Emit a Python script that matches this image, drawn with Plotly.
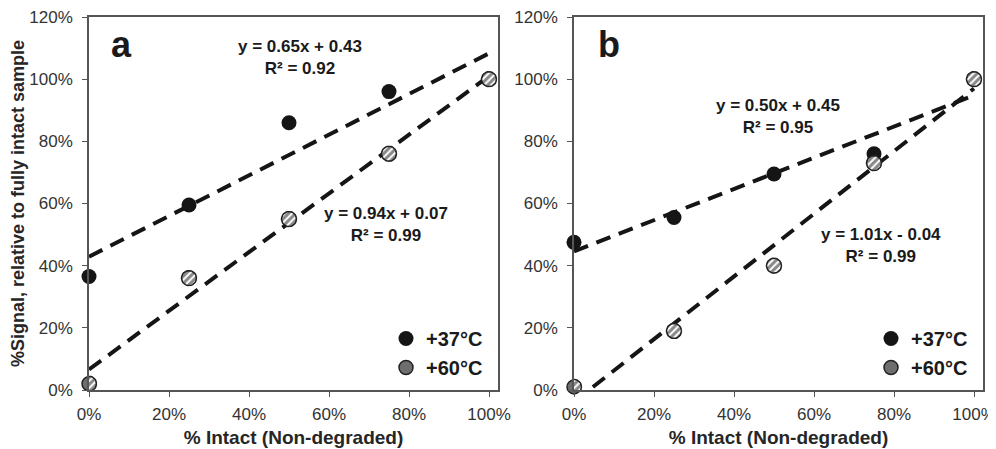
import numpy as np
import plotly.graph_objects as go

# ---------------- data ----------------
x_pct = [0.0, 0.25, 0.50, 0.75, 1.00]
a_37 = [0.365, 0.595, 0.86, 0.96, 1.00]
a_60 = [0.02, 0.36, 0.55, 0.76, 1.00]
b_37 = [0.475, 0.555, 0.695, 0.76, 1.00]
b_60 = [0.01, 0.19, 0.40, 0.73, 1.00]
series_names = ["+37°C", "+60°C"]
panel_labels = ["a", "b"]
x_ticks = [0, 0.2, 0.4, 0.6, 0.8, 1.0]
y_ticks = [0, 0.2, 0.4, 0.6, 0.8, 1.0, 1.2]

OFF = 8  # default page body margin
W, H = 996 - OFF, 449 - OFF
FONT = "Liberation Sans, Arial, sans-serif"
DARK = "#151515"
AX = "#555555"

# layout in screenshot pixels
pa = dict(l=89, r=498)
pb = dict(l=574, r=983)
top, bot = 17, 390
ML, MR, MT, MB = pa["l"] - OFF, 996 - pb["r"], top - OFF, 449 - bot
PW, PH = W - ML - MR, H - MT - MB
XMAX = 1.0225
YMAX = 1.2

def px(v): return (v - OFF - ML) / PW
def py(v): return 1 - (v - OFF - MT) / PH

fig = go.Figure()

def fit(xs, ys):
    m, b = np.polyfit(xs, ys, 1)
    r = np.corrcoef(xs, ys)[0, 1] ** 2
    return m, b, r

def hatched_circles(xs, ys, xa, ya, panel):
    # circle radius in pixels converted to data units through axis scales
    rpx = 7.5
    w = panel["r"] - panel["l"]
    sx = XMAX / w
    sy = YMAX / (bot - top)
    t = np.linspace(0, 2 * np.pi, 40)
    for xi, yi in zip(xs, ys):
        fig.add_trace(go.Scatter(
            x=xi + rpx * sx * np.cos(t), y=yi + rpx * sy * np.sin(t),
            mode="lines", fill="toself",
            fillpattern=dict(shape="/", size=5, solidity=0.6,
                             fgcolor="#111111", bgcolor="white"),
            line=dict(color="#222222", width=1.5),
            cliponaxis=False, showlegend=False, hoverinfo="skip",
            xaxis=xa, yaxis=ya))

panels = [(a_37, a_60, "x", "y", pa, "legend"),
          (b_37, b_60, "x2", "y2", pb, "legend2")]

for s37, s60, xa, ya, pnl, lg in panels:
    for ys in (s37, s60):
        m, b, r = fit(x_pct, ys)
        xl = np.array([0.0, 1.0])
        fig.add_trace(go.Scatter(
            x=xl, y=m * xl + b, mode="lines",
            line=dict(color=DARK, width=4, dash="15px,9px"),
            showlegend=False, hoverinfo="skip", xaxis=xa, yaxis=ya))
    fig.add_trace(go.Scatter(
        x=x_pct, y=s37, mode="markers", name=series_names[0],
        marker=dict(size=15, color=DARK, line=dict(width=0)),
        cliponaxis=False, legend=lg, legendgroup="g37", xaxis=xa, yaxis=ya))
    fig.add_trace(go.Scatter(
        x=x_pct, y=s60, mode="markers", name=series_names[1],
        marker=dict(size=14, color="#6e6e6e", line=dict(width=1.5, color="#222222")),
        cliponaxis=False, legend=lg, legendgroup="g60", xaxis=xa, yaxis=ya))
    hatched_circles(x_pct, s60, xa, ya, pnl)

axis_common = dict(range=[0, XMAX], tickvals=x_ticks, tickformat=".0%",
                   showline=True, linecolor=AX, linewidth=1.5, mirror=True,
                   ticks="outside", ticklen=5, tickcolor=AX, tickwidth=1.2,
                   ticklabelstandoff=3, ticklabeloverflow="allow",
                   showgrid=False, zeroline=False, automargin=False,
                   tickfont=dict(family=FONT, size=17, color="#333333"),
                   title=dict(text="<b>% Intact (Non-degraded)</b>", standoff=8,
                              font=dict(family=FONT, size=19, color="#262626")))
yaxis_common = dict(range=[0, YMAX], tickvals=y_ticks, tickformat=".0%",
                    showline=True, linecolor=AX, linewidth=1.5, mirror=True,
                    ticks="outside", ticklen=5, tickcolor=AX, tickwidth=1.2,
                    ticklabelstandoff=6, ticklabeloverflow="allow",
                    showgrid=False, zeroline=False, automargin=False,
                    tickfont=dict(family=FONT, size=17, color="#333333"))

dom_y = [py(bot), py(top)]
fig.update_layout(
    width=W, height=H, margin=dict(l=ML, r=MR, t=MT, b=MB, autoexpand=False),
    paper_bgcolor="white", plot_bgcolor="white",
    xaxis=dict(domain=[px(pa["l"]), px(pa["r"])], anchor="y", **axis_common),
    yaxis=dict(domain=dom_y, anchor="x",
               title=dict(text="<b>%Signal, relative to fully intact sample</b>", standoff=4,
                          font=dict(family=FONT, size=18, color="#262626")),
               **yaxis_common),
    xaxis2=dict(domain=[px(pb["l"]), px(pb["r"])], anchor="y2", **axis_common),
    yaxis2=dict(domain=dom_y, anchor="x2", **yaxis_common),
    showlegend=True,
    legend=dict(x=px(488), y=py(387), xanchor="right", yanchor="bottom",
                bgcolor="rgba(0,0,0,0)", tracegroupgap=0, itemwidth=30,
                font=dict(family=FONT, size=20, color="#1a1a1a", weight="bold")),
    legend2=dict(x=px(973), y=py(387), xanchor="right", yanchor="bottom",
                 bgcolor="rgba(0,0,0,0)", tracegroupgap=0, itemwidth=30,
                 font=dict(family=FONT, size=20, color="#1a1a1a", weight="bold")),
)

# equation annotations computed from the fits
eq_pos = [(300, 58, 0), (386, 224, 1), (778, 117, 2), (881, 245, 3)]
fits = [fit(x_pct, a_37), fit(x_pct, a_60), fit(x_pct, b_37), fit(x_pct, b_60)]
for cx, cy, i in eq_pos:
    m, b, r = fits[i]
    sign = "+" if b >= 0 else "-"
    txt = f"<b>y = {m:.2f}x {sign} {abs(b):.2f}<br>R² = {r:.2f}</b>"
    fig.add_annotation(x=px(cx), y=py(cy), xref="paper", yref="paper",
                       xanchor="center", yanchor="middle",
                       text=txt, showarrow=False, align="center",
                       font=dict(family=FONT, size=17, color="#1a1a1a"))

for lbl, cx in zip(panel_labels, [121, 609]):
    fig.add_annotation(x=px(cx), y=py(44), xref="paper", yref="paper",
                       xanchor="center", yanchor="middle",
                       text=f"<b>{lbl}</b>", showarrow=False,
                       font=dict(family=FONT, size=36, color="#1a1a1a"))

fig.write_html("out.html")
